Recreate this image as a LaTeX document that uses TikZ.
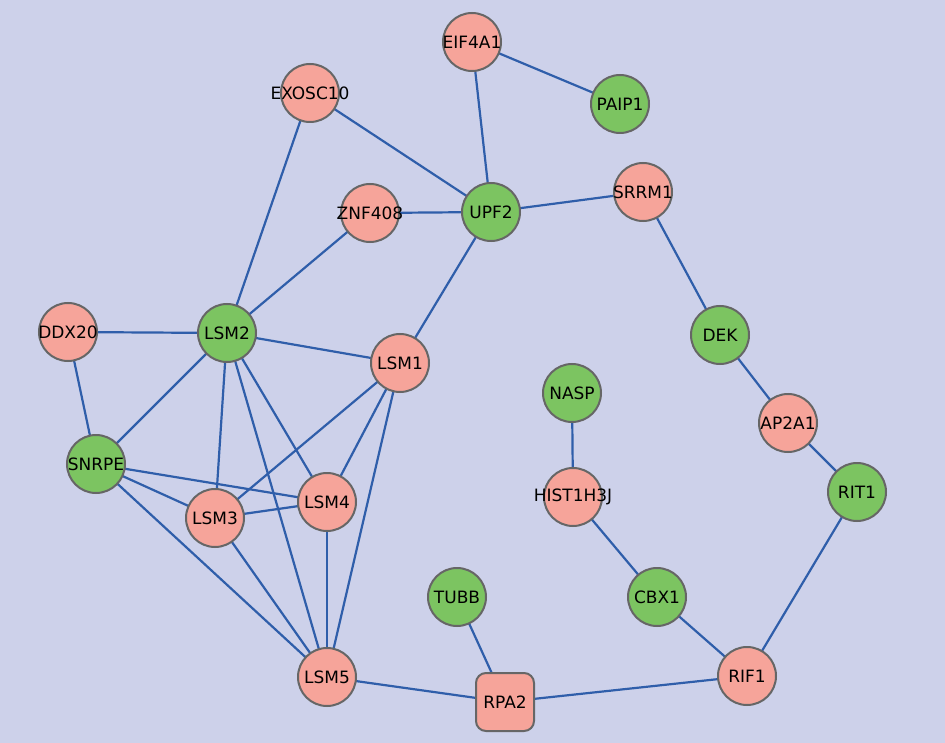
\documentclass[tikz,border=0pt]{standalone}
\usepackage{fontspec}
\setmainfont{DejaVu Sans}
\definecolor{bg}{HTML}{CDD1EA}
\definecolor{pinkn}{HTML}{F6A49A}
\definecolor{greenn}{HTML}{7CC461}
\definecolor{bordern}{HTML}{666666}
\definecolor{edgec}{HTML}{2F5EAA}
\begin{document}
\begin{tikzpicture}[x=1pt,y=-1pt,
  gene/.style={circle,draw=bordern,line width=2pt,minimum size=58pt,inner sep=0pt,
    label={[font=\fontsize{17}{20}\selectfont,text=black,inner sep=0pt]center:#1}},
  pk/.style={gene=#1,fill=pinkn},
  gn/.style={gene=#1,fill=greenn},
  sq/.style={gene=#1,rectangle,rounded corners=10pt,fill=pinkn,minimum size=58pt},
  edge/.style={draw=edgec,line width=2.2pt}]
\fill[bg] (0,0) rectangle (945,743);
\useasboundingbox (0,0) rectangle (945,743);
\path
 (472,42) coordinate (cEIF4A1)
 (620,104) coordinate (cPAIP1)
 (310,93) coordinate (cEXOSC10)
 (370,213) coordinate (cZNF408)
 (491,212) coordinate (cUPF2)
 (643,192) coordinate (cSRRM1)
 (68,332) coordinate (cDDX20)
 (227,333) coordinate (cLSM2)
 (400,363) coordinate (cLSM1)
 (720,335) coordinate (cDEK)
 (572,393) coordinate (cNASP)
 (788,423) coordinate (cAP2A1)
 (96,464) coordinate (cSNRPE)
 (573,497) coordinate (cHIST)
 (857,492) coordinate (cRIT1)
 (327,502) coordinate (cLSM4)
 (215,518) coordinate (cLSM3)
 (457,597) coordinate (cTUBB)
 (657,597) coordinate (cCBX1)
 (327,677) coordinate (cLSM5)
 (505,702) coordinate (cRPA2)
 (747,676) coordinate (cRIF1);
\foreach \a/\b in {EIF4A1/PAIP1,EIF4A1/UPF2,EXOSC10/UPF2,EXOSC10/LSM2,ZNF408/UPF2,ZNF408/LSM2,
  UPF2/SRRM1,UPF2/LSM1,SRRM1/DEK,DEK/AP2A1,AP2A1/RIT1,RIT1/RIF1,NASP/HIST,HIST/CBX1,CBX1/RIF1,
  RIF1/RPA2,TUBB/RPA2,RPA2/LSM5,DDX20/LSM2,DDX20/SNRPE,LSM2/LSM1,LSM2/SNRPE,LSM2/LSM3,LSM2/LSM4,
  LSM2/LSM5,LSM1/LSM3,LSM1/LSM4,LSM1/LSM5,SNRPE/LSM4,SNRPE/LSM3,SNRPE/LSM5,LSM3/LSM4,LSM3/LSM5,LSM4/LSM5}
  \draw[edge] (c\a) -- (c\b);
\node[pk=EIF4A1] (EIF4A1) at (cEIF4A1) {};
\node[gn=PAIP1] (PAIP1) at (cPAIP1) {};
\node[pk=EXOSC10] (EXOSC10) at (cEXOSC10) {};
\node[pk=ZNF408] (ZNF408) at (cZNF408) {};
\node[gn=UPF2] (UPF2) at (cUPF2) {};
\node[pk=SRRM1] (SRRM1) at (cSRRM1) {};
\node[pk=DDX20] (DDX20) at (cDDX20) {};
\node[gn=LSM2] (LSM2) at (cLSM2) {};
\node[pk=LSM1] (LSM1) at (cLSM1) {};
\node[gn=DEK] (DEK) at (cDEK) {};
\node[gn=NASP] (NASP) at (cNASP) {};
\node[pk=AP2A1] (AP2A1) at (cAP2A1) {};
\node[gn=SNRPE] (SNRPE) at (cSNRPE) {};
\node[pk=HIST1H3J] (HIST) at (cHIST) {};
\node[gn=RIT1] (RIT1) at (cRIT1) {};
\node[pk=LSM4] (LSM4) at (cLSM4) {};
\node[pk=LSM3] (LSM3) at (cLSM3) {};
\node[gn=TUBB] (TUBB) at (cTUBB) {};
\node[gn=CBX1] (CBX1) at (cCBX1) {};
\node[pk=LSM5] (LSM5) at (cLSM5) {};
\node[sq=RPA2] (RPA2) at (cRPA2) {};
\node[pk=RIF1] (RIF1) at (cRIF1) {};
\end{tikzpicture}
\end{document}
